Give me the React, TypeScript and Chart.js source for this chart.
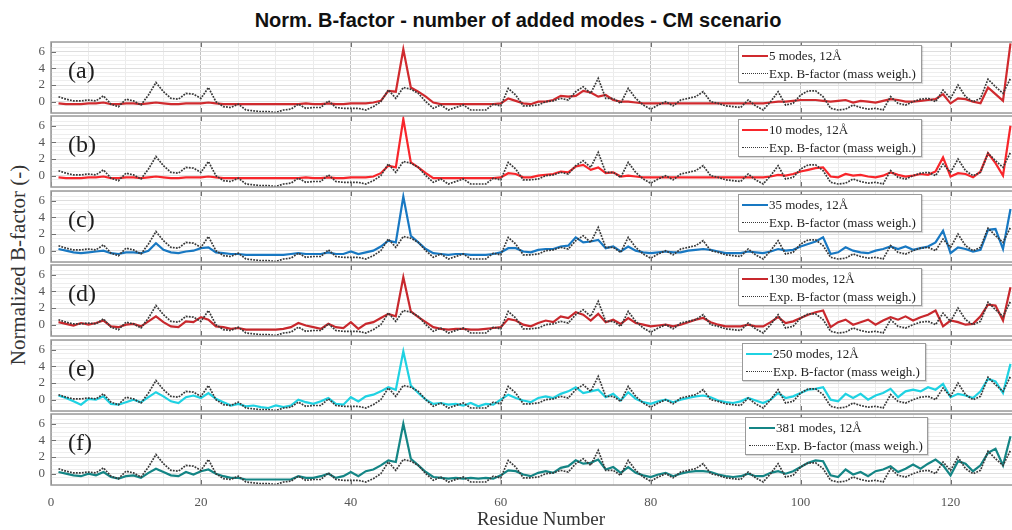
import React, { useEffect, useRef } from "react";
import { Chart, registerables } from "chart.js";
Chart.register(...registerables);

// ---------- data ----------
const expBfactor = [
  0.6, 0.3, 0.1, 0.1, 0.2, 0.1, 0.7, -0.3, -0.6, 0.3,
  0.1, -0.4, 0.8, 2.3, 1.2, 0.4, 0.3, 1.0, 0.9, 0.4,
  1.7, 0.0, -0.6, -0.7, -0.3, -1.0, -1.1, -1.2, -1.2, -1.3,
  -1.0, -0.9, -0.3, -0.8, -0.7, -0.7, 0.1, -0.7, -0.8, -0.8,
  -0.8, -1.0, -0.6, 0.0, 1.4, 0.4, 1.7, 1.5, 1.0, 0.0,
  -0.8, -0.4, -1.0, -0.7, -0.4, -1.0, -1.0, -1.0, -0.3, -0.5,
  1.6, 0.8, -0.5, -0.5, -0.4, 0.0, 0.1, 0.4, 0.2, 1.2,
  1.8, 1.0, 2.8, 0.4, 0.4, -0.2, 1.6, 0.4, -0.4, -0.9,
  -0.4, 0.0, -0.5, 0.2, 0.4, 0.6, 1.2, 0.0, -0.2, -0.5,
  -0.6, -0.7, 0.2, -0.5, -1.0, 0.0, 1.2, -0.4, -0.2, 0.8,
  1.3, 1.3, 0.6, -0.8, -1.0, -0.9, -0.4, -0.7, -0.9, -0.8,
  -1.0, 0.6, -0.2, -0.4, 0.0, 0.3, 0.4, 0.0, 1.4, 0.4,
  2.0, 0.6, 0.0, 0.4, 2.7, 1.8, 1.0, 2.8,
];

const modes5 = [
  -0.2, -0.3, -0.3, -0.3, -0.2, -0.2, -0.1, -0.3, -0.3, -0.2,
  -0.2, -0.3, -0.2, -0.1, -0.2, -0.3, -0.3, -0.2, -0.2, -0.2,
  -0.1, -0.2, -0.3, -0.3, -0.3, -0.3, -0.3, -0.3, -0.3, -0.3,
  -0.3, -0.3, -0.3, -0.2, -0.3, -0.3, -0.2, -0.3, -0.3, -0.2,
  -0.2, -0.2, -0.1, 0.1, 1.3, 1.2, 6.3, 1.7, 1.2, 0.6,
  -0.1, -0.3, -0.3, -0.3, -0.3, -0.3, -0.3, -0.3, -0.3, -0.2,
  0.4, 0.1, -0.2, -0.3, 0.0, 0.0, 0.2, 0.7, 0.6, 0.7,
  1.3, 1.1, 0.6, 0.8, 0.2, 0.0, 0.0, -0.1, -0.2, -0.2,
  -0.2, -0.2, -0.2, -0.2, -0.2, -0.2, -0.2, -0.2, -0.2, -0.2,
  -0.2, -0.2, -0.2, -0.2, -0.2, -0.1, 0.0, 0.0, 0.1, 0.2,
  0.2, 0.2, 0.1, 0.0, 0.1, 0.2, -0.1, 0.1, 0.0, -0.1,
  0.1, 0.3, 0.2, 0.0, 0.0, 0.1, 0.2, 0.3, 0.9, -0.2,
  0.4, 0.3, 0.0, -0.2, 1.7, 0.9, 0.1, 7.0,
];

const modes10 = [
  -0.2, -0.3, -0.3, -0.3, -0.2, -0.2, -0.1, -0.3, -0.3, -0.2,
  -0.2, -0.3, -0.2, -0.1, -0.2, -0.3, -0.3, -0.2, -0.2, -0.2,
  -0.1, -0.2, -0.3, -0.3, -0.3, -0.3, -0.3, -0.3, -0.3, -0.3,
  -0.3, -0.3, -0.3, -0.2, -0.3, -0.3, -0.2, -0.3, -0.3, -0.2,
  -0.2, -0.2, -0.1, 0.3, 1.2, 1.0, 6.8, 1.6, 1.0, 0.3,
  -0.3, -0.3, -0.3, -0.3, -0.3, -0.3, -0.3, -0.3, -0.3, -0.2,
  0.3, 0.2, -0.2, -0.2, 0.0, 0.1, 0.2, 0.5, 0.4, 1.1,
  1.3, 0.7, 1.0, 0.3, 0.4, -0.1, 0.0, -0.1, -0.2, -0.2,
  -0.2, -0.2, -0.2, -0.2, -0.2, -0.2, -0.2, -0.2, -0.2, -0.2,
  -0.2, -0.2, -0.2, -0.2, -0.2, -0.1, 0.1, 0.0, 0.2, 0.5,
  0.7, 0.9, 1.0, -0.1, -0.2, 0.2, 0.0, 0.1, -0.1, -0.2,
  0.0, 0.4, 0.1, -0.1, 0.0, 0.2, 0.1, 0.5, 2.2, -0.1,
  0.3, 0.2, -0.2, 0.5, 2.7, 1.5, 0.0, 6.0,
];

const modes35 = [
  0.2, 0.0, -0.2, -0.3, -0.2, -0.1, 0.0, -0.3, -0.4, -0.2,
  -0.2, -0.3, 0.0, 0.9, 0.1, -0.2, -0.3, -0.1, 0.0, 0.3,
  0.4, -0.2, -0.3, -0.4, -0.4, -0.5, -0.5, -0.5, -0.5, -0.5,
  -0.5, -0.4, -0.3, -0.4, -0.4, -0.4, -0.2, -0.4, -0.4, -0.1,
  -0.4, -0.2, 0.0, 0.5, 1.2, 1.0, 6.5, 1.8, 1.0, 0.2,
  -0.3, -0.4, -0.5, -0.4, -0.4, -0.5, -0.5, -0.5, -0.4, -0.2,
  0.3, 0.3, -0.1, -0.2, 0.1, 0.2, 0.2, 0.5, 0.6, 1.6,
  1.0, 1.1, 1.3, 0.3, 0.5, -0.1, 0.5, 0.0, -0.2, -0.3,
  -0.2, -0.1, -0.2, -0.2, 0.0, 0.1, 0.2, 0.1, -0.1, -0.3,
  -0.3, -0.3, -0.1, -0.2, -0.3, -0.1, 0.2, 0.0, 0.1, 0.5,
  0.8, 1.1, 1.6, -0.4, -0.2, 0.4, 0.0, -0.2, -0.3, 0.0,
  0.2, 0.5, 0.2, 0.5, 0.1, 0.3, 0.5, 1.0, 2.4, -0.3,
  0.4, 0.2, -0.1, 0.1, 2.5, 2.6, 0.2, 5.0,
];

const modes130 = [
  0.3, 0.1, -0.1, 0.2, 0.0, 0.2, 0.5, -0.2, -0.3, 0.0,
  0.1, -0.2, 0.4, 1.0, 0.3, -0.2, -0.3, 0.4, 0.3, 0.9,
  0.6, -0.2, -0.3, -0.5, -0.4, -0.6, -0.6, -0.6, -0.6, -0.6,
  -0.5, -0.3, 0.2, -0.1, -0.3, -0.5, 0.1, -0.3, -0.4, 0.3,
  -0.5, 0.1, 0.3, 0.8, 1.3, 1.0, 5.7, 1.6, 0.9, 0.3,
  -0.3, -0.5, -0.6, -0.5, -0.5, -0.6, -0.6, -0.5, -0.4, -0.3,
  0.7, 0.5, 0.0, -0.2, 0.2, 0.5, 0.3, 1.0, 0.8, 1.5,
  1.2, 0.5, 1.3, 0.3, 0.6, 0.1, 0.8, 0.2, 0.0, -0.2,
  -0.1, 0.0, -0.2, 0.0, 0.3, 0.6, 0.8, 0.3, 0.0, -0.2,
  -0.2, -0.2, 0.0, -0.2, -0.2, 0.3, 0.9, 0.2, 0.4, 0.8,
  1.2, 1.5, 1.7, -0.3, 0.3, 0.6, 0.0, 0.3, 0.6, 0.0,
  0.5, 0.9, 0.6, 1.0, 0.5, 0.9, 1.2, 1.7, -0.2, 0.5,
  0.3, 0.0, 0.1, 1.0, 2.4, 2.3, 0.5, 4.5,
];

const modes250 = [
  0.5, 0.2, -0.2, -0.6, 0.1, 0.0, 0.4, -0.5, -0.6, -0.3,
  0.0, -0.3, 0.3, 0.9, 0.4, -0.2, -0.4, 0.3, 0.5, 0.2,
  0.8, 0.1, -0.3, -0.7, -0.5, -0.8, -0.7, -0.9, -1.0, -0.7,
  -0.9, -0.7, 0.0, -0.3, -0.5, -0.2, 0.2, -0.5, -0.6, 0.3,
  -0.2, 0.4, 0.6, 1.0, 1.5, 1.2, 5.8, 1.7, 0.8, 0.0,
  -0.5, -0.4, -0.6, -0.5, -0.7, -0.4, -0.8, -0.5, -0.6, 0.0,
  0.6, 0.2, -0.1, -0.3, 0.2, 0.4, 0.2, 0.7, 1.0, 1.5,
  0.8, 1.0, 1.2, 0.3, 0.7, -0.1, 0.9, 0.1, -0.3, -0.5,
  -0.2, 0.0, -0.3, 0.0, 0.2, 0.4, 0.5, 0.3, -0.1, -0.3,
  -0.4, -0.2, 0.2, -0.1, -0.4, 0.0, 0.8, 0.2, 0.4, 0.8,
  1.2, 1.3, 1.5, 0.0, -0.2, 0.7, 0.2, 0.7, 0.0, 0.5,
  0.8, 1.3, 0.3, 1.0, 1.2, 1.0, 1.5, 1.2, 1.9, 0.3,
  0.7, 0.5, 0.2, 1.0, 2.5, 2.2, 0.8, 4.3,
];

const modes381 = [
  0.2, 0.0, -0.2, -0.3, 0.0, -0.2, 0.2, -0.4, -0.6, -0.3,
  -0.2, -0.5, 0.1, 0.6, 0.2, -0.2, -0.3, 0.2, -0.1, 0.3,
  0.5, 0.0, -0.3, -0.5, -0.5, -0.7, -0.7, -0.7, -0.7, -0.7,
  -0.7, -0.7, -0.3, -0.5, -0.5, -0.3, 0.0, -0.5, -0.3, 0.2,
  -0.3, 0.3, 0.5, 1.0, 1.6, 1.4, 6.0, 1.8, 1.0, 0.2,
  -0.4, -0.5, -0.6, -0.5, -0.6, -0.5, -0.6, -0.5, -0.6, -0.2,
  0.4, 0.3, -0.1, -0.3, 0.1, 0.3, 0.1, 0.7, 0.9, 1.6,
  1.2, 1.3, 1.7, 0.5, 0.8, 0.1, 0.8, 0.1, -0.2, -0.4,
  -0.1, 0.1, -0.3, 0.0, 0.2, 0.3, 0.3, 0.2, -0.1, -0.3,
  -0.4, -0.3, 0.0, -0.3, -0.3, 0.1, 0.3, 0.0, 0.3, 0.8,
  1.3, 1.6, 1.5, -0.2, -0.4, 0.5, -0.1, 0.2, -0.3, 0.3,
  0.5, 0.9, 0.2, 0.6, 1.1, 0.6, 1.2, 1.7, 1.0, -0.2,
  1.5, 1.2, 0.3, 1.0, 2.5, 3.0, 1.0, 4.5,
];

const residues = expBfactor.map((_, i) => i + 1);
const panelLetters = ["(a)", "(b)", "(c)", "(d)", "(e)", "(f)"];
const modelLabels = [
  "5 modes, 12Å",
  "10 modes, 12Å",
  "35 modes, 12Å",
  "130 modes, 12Å",
  "250 modes, 12Å",
  "381 modes, 12Å",
];
const modelSeries = [modes5, modes10, modes35, modes130, modes250, modes381];
const expLabel = "Exp. B-factor (mass weigh.)";
const xTickLabels = [0, 20, 40, 60, 80, 100, 120];
const yTickLabels = [0, 2, 4, 6];
const chartTitle = "Norm. B-factor - number of added modes - CM scenario";
const xAxisTitle = "Residue Number";
const yAxisTitle = "Normalized B-factor (-)";

// ---------- styles ----------
const COLORS = ["#d02a2e", "#f8262b", "#1878c2", "#c8282d", "#1fd2e2", "#148585"];
const SERIF = "'Liberation Serif', 'DejaVu Serif', serif";
const PANEL_TOPS = [42, 116, 191, 265, 340, 414];
const BOX_H = 71;
const Y_MIN = -1.36;
const Y_MAX = 7.17;
const X_MIN = 0;
const X_MAX = 128.2;
const LEGEND_POS = [
  { left: 738, width: 184 },
  { left: 738, width: 184 },
  { left: 738, width: 184 },
  { left: 738, width: 184 },
  { left: 742, width: 184 },
  { left: 745, width: 183 },
];

const boxPlugin = {
  id: "panelBox",
  afterDraw(chart: any) {
    const { ctx, chartArea: a, scales } = chart;
    ctx.save();
    ctx.strokeStyle = "#707070";
    ctx.lineWidth = 1;
    yTickLabels.forEach((v) => {
      const y = Math.round(scales.y.getPixelForValue(v)) + 0.5;
      ctx.beginPath();
      ctx.moveTo(a.left, y);
      ctx.lineTo(a.left + 5, y);
      ctx.stroke();
    });
    xTickLabels.forEach((v) => {
      const x = Math.round(scales.x.getPixelForValue(v)) + 0.5;
      ctx.beginPath();
      ctx.moveTo(x, a.top);
      ctx.lineTo(x, a.top + 5);
      ctx.moveTo(x, a.bottom);
      ctx.lineTo(x, a.bottom - 5);
      ctx.stroke();
    });
    ctx.strokeStyle = "#9a9a9a";
    ctx.lineWidth = 1.5;
    ctx.strokeRect(a.left, a.top, a.right - a.left + 4, a.bottom - a.top);
    ctx.restore();
  },
};

function Panel({ index }: { index: number }) {
  const ref = useRef<HTMLCanvasElement>(null);
  const isBottom = index === 5;
  const canvasTop = PANEL_TOPS[index] - 1;
  const canvasH = isBottom ? 530 - canvasTop : BOX_H + 2;

  useEffect(() => {
    const values = modelSeries[index];
    const chart = new Chart(ref.current as HTMLCanvasElement, {
      type: "line",
      data: {
        datasets: [
          {
            label: modelLabels[index],
            data: residues.map((r, i) => ({ x: r, y: values[i] })),
            borderColor: COLORS[index],
            backgroundColor: COLORS[index],
            borderWidth: 2.2,
            pointRadius: 0,
            tension: 0,
            order: 1,
          },
          {
            label: expLabel,
            data: residues.map((r, i) => ({ x: r, y: expBfactor[i] })),
            borderColor: "#383838",
            backgroundColor: "#383838",
            borderWidth: 1.7,
            borderDash: [1.8, 1.2],
            pointRadius: 0,
            tension: 0,
            order: 0,
          },
        ],
      },
      options: {
        animation: false,
        responsive: false,
        maintainAspectRatio: false,
        layout: {
          autoPadding: false,
          padding: { top: 1, bottom: isBottom ? 0 : 1, left: 0, right: 0 },
        },
        plugins: {
          legend: { display: false },
          tooltip: { enabled: false },
          title: { display: false },
        },
        scales: {
          x: {
            type: "linear",
            min: X_MIN,
            max: X_MAX,
            border: { display: false },
            grid: {
              drawTicks: false,
              lineWidth: 1,
              color: (c: any) =>
                c.tick && Math.abs(c.tick.value % 20) < 1e-6 ? "#c2c2c2" : "#ebebeb",
            },
            ticks: {
              display: isBottom,
              stepSize: 5,
              autoSkip: false,
              maxRotation: 0,
              padding: 10,
              color: "#555555",
              font: { family: SERIF, size: 13 },
              callback: (v: any) =>
                xTickLabels.includes(Number(v)) ? String(v) : "",
            },
            afterFit: (s: any) => {
              s.height = isBottom ? canvasH - 1 - BOX_H : 0;
              s.paddingLeft = 0;
              s.paddingRight = 0;
              s.paddingTop = 0;
              s.paddingBottom = 0;
            },
          },
          y: {
            type: "linear",
            min: Y_MIN,
            max: Y_MAX,
            border: { display: false },
            grid: {
              drawTicks: false,
              lineWidth: 1,
              color: (c: any) =>
                c.tick && yTickLabels.includes(Number(c.tick.value)) ? "#dedede" : "#eeeeee",
            },
            ticks: {
              stepSize: 0.5,
              autoSkip: false,
              padding: 6,
              color: "#555555",
              font: { family: SERIF, size: 13 },
              callback: (v: any) =>
                yTickLabels.includes(Number(v)) ? String(v) : "",
            },
            afterFit: (s: any) => {
              s.width = 51;
              s.paddingTop = 0;
              s.paddingBottom = 0;
              s.paddingLeft = 0;
              s.paddingRight = 0;
            },
          },
        },
      },
      plugins: [boxPlugin],
    });
    return () => chart.destroy();
  }, []);

  const top = PANEL_TOPS[index];
  const leg = LEGEND_POS[index];
  return (
    <>
      <canvas
        ref={ref}
        width={1012}
        height={canvasH}
        style={{ position: "absolute", left: 0, top: canvasTop, width: 1012, height: canvasH, display: "block" }}
      />
      <div
        style={{
          position: "absolute",
          left: 68,
          top: top + 14,
          fontFamily: SERIF,
          fontSize: 24,
          lineHeight: "28px",
          color: "#1e1e1e",
        }}
      >
        {panelLetters[index]}
      </div>
      <div
        style={{
          position: "absolute",
          left: leg.left,
          top: top + 3,
          width: leg.width,
          height: 38,
          boxSizing: "border-box",
          background: "#ffffff",
          border: "1px solid #9a9a9a",
          boxShadow: "1px 1px 1px rgba(0,0,0,0.15)",
          fontFamily: SERIF,
          fontSize: 13,
          color: "#222222",
        }}
      >
        <div style={{ position: "absolute", left: 3, top: 9, width: 26, borderTop: `2.2px solid ${COLORS[index]}` }} />
        <div style={{ position: "absolute", left: 30, top: 1, lineHeight: "18px", whiteSpace: "nowrap" }}>
          {modelLabels[index]}
        </div>
        <div style={{ position: "absolute", left: 3, top: 27, width: 26, borderTop: "1.6px dotted #383838" }} />
        <div style={{ position: "absolute", left: 30, top: 19, lineHeight: "18px", whiteSpace: "nowrap" }}>
          {expLabel}
        </div>
      </div>
    </>
  );
}

export default function App() {
  return (
    <div
      style={{
        position: "absolute",
        left: 0,
        top: 0,
        width: 1012,
        height: 530,
        background: "#ffffff",
        overflow: "hidden",
      }}
    >
      <div
        style={{
          position: "absolute",
          left: 0,
          top: 8,
          width: 1036,
          textAlign: "center",
          fontFamily: "'Liberation Sans', Arial, sans-serif",
          fontWeight: "bold",
          fontSize: 20,
          lineHeight: "24px",
          color: "#111111",
        }}
      >
        {chartTitle}
      </div>
      <div
        style={{
          position: "absolute",
          left: 18,
          top: 265,
          transform: "translate(-50%, -50%) rotate(-90deg)",
          whiteSpace: "nowrap",
          fontFamily: SERIF,
          fontSize: 21,
          color: "#333333",
        }}
      >
        {yAxisTitle}
      </div>
      {[0, 1, 2, 3, 4, 5].map((i) => (
        <Panel key={i} index={i} />
      ))}
      <div
        style={{
          position: "absolute",
          left: 441,
          top: 508,
          width: 200,
          textAlign: "center",
          fontFamily: SERIF,
          fontSize: 19,
          lineHeight: "22px",
          color: "#333333",
        }}
      >
        {xAxisTitle}
      </div>
    </div>
  );
}
